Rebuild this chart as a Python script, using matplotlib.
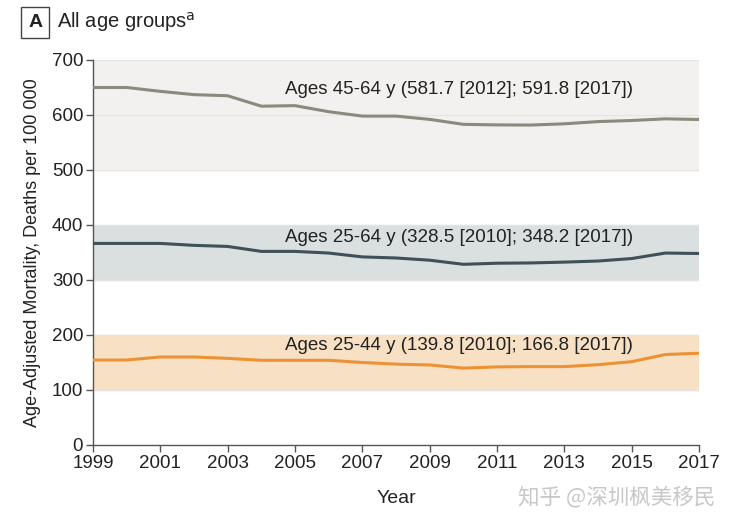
import matplotlib
matplotlib.use("Agg")
import matplotlib.pyplot as plt
from matplotlib import font_manager

years = list(range(1999, 2018))
ages_45_64 = [650, 650, 643, 637, 635, 616, 617, 606, 598, 598, 592, 583, 582, 581.7, 584, 588, 590, 593, 591.8]
ages_25_64 = [366.5, 366.5, 366.5, 363, 361, 352, 352, 349, 342, 340, 336, 328.5, 330.5, 331, 332.5, 334.5, 339, 349, 348.2]
ages_25_44 = [154.5, 154.5, 160, 160, 157.5, 154, 154, 154, 150, 147, 145.5, 139.8, 142, 142.5, 142.5, 146, 151.5, 164.5, 166.8]

bands = [(500, 700), (300, 400), (100, 200)]
band_colors = ["#f3f1ef", "#dadfe0", "#f8e0c4"]
line_colors = ["#8a8a7e", "#3d5157", "#ec9235"]
labels = ["Ages 45-64 y (581.7 [2012]; 591.8 [2017])",
          "Ages 25-64 y (328.5 [2010]; 348.2 [2017])",
          "Ages 25-44 y (139.8 [2010]; 166.8 [2017])"]
label_y = [647, 378, 180]
xticks = list(range(1999, 2018, 2))
yticks = list(range(0, 701, 100))

names = {f.name for f in font_manager.fontManager.ttflist}
fam = "Liberation Sans Narrow" if "Liberation Sans Narrow" in names else "Liberation Sans"
plt.rcParams['font.family'] = [fam, 'DejaVu Sans']
txt = "#222222"

fig = plt.figure(figsize=(7.32, 5.30), dpi=100)
ax = fig.add_axes([0.127, 0.1604, 0.828, 0.7264])

for y in yticks[1:]:
    ax.axhline(y, color="#e2dfdc", lw=1.0, zorder=0)
for (lo, hi), c in zip(bands, band_colors):
    ax.axhspan(lo, hi, color=c, zorder=1, lw=0)
for y in yticks[1:]:
    ax.axhline(y, color="#e6e3e0", lw=0.8, zorder=1.5)

for vals, c in zip([ages_45_64, ages_25_64, ages_25_44], line_colors):
    ax.plot(years, vals, color=c, lw=2.2, zorder=3, solid_capstyle="butt")
for lab, ly in zip(labels, label_y):
    ax.text(2004.7, ly, lab, fontsize=13.5, color=txt, va="center", ha="left", zorder=4)

ax.set_xlim(1999, 2017)
ax.set_ylim(0, 700)
ax.set_xticks(xticks)
ax.set_yticks(yticks)
ax.tick_params(direction="out", length=5, width=1, color="#555555", labelsize=13.5, labelcolor=txt, pad=2)
for s in ["top", "right"]:
    ax.spines[s].set_visible(False)
for s in ["left", "bottom"]:
    ax.spines[s].set_color("#555555")
    ax.spines[s].set_linewidth(1)
ax.set_xlabel("Year", fontsize=14, color=txt, labelpad=13)
ax.set_ylabel("Age-Adjusted Mortality, Deaths per 100 000", fontsize=13, color=txt, labelpad=8)

fig.text(0.048, 0.958, "A", fontsize=14, fontweight="bold", color=txt, ha="center", va="center",
         bbox=dict(boxstyle="square,pad=0.35", fc="white", ec="#444444", lw=1))
fig.text(0.078, 0.958, "All age groups$^{\\mathrm{a}}$", fontsize=14.5, color=txt, ha="left", va="center")

fig.text(0.977, 0.062, "知乎 @深圳枫美移民", fontsize=15.5, color="#c8c8c8", ha="right", va="center",
         family=["Noto Sans CJK SC", "DejaVu Sans"])

fig.savefig("out.png", dpi=100, facecolor="white")
